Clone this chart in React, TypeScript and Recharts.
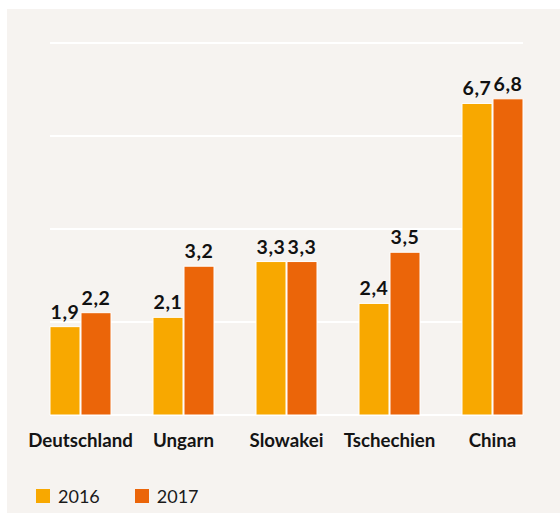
import React from "react"
import { BarChart, Bar, XAxis, YAxis, CartesianGrid, Legend, LabelList } from "recharts"

const categories = ["Deutschland", "Ungarn", "Slowakei", "Tschechien", "China"]
const values2016 = [1.9, 2.1, 3.3, 2.4, 6.7]
const values2017 = [2.2, 3.2, 3.3, 3.5, 6.8]
const seriesNames = ["2016", "2017"]
const yTicks = [0, 2, 4, 6, 8]

const YELLOW = "#f8a800"
const ORANGE = "#eb6509"
const BG = "#f6f3f0"

const data = categories.map((name, i) => ({
  name,
  v2016: values2016[i],
  v2017: values2017[i],
}))

const fmt = (v: any) => Number(v).toFixed(1).replace(".", ",")

const labelStyle = { fontFamily: "Lato", fontWeight: 700, fontSize: 19.5, fill: "#111111", letterSpacing: 0.6 }

// legend: small squares with the year next to them
const LegendContent = (props: any) => {
  const items = props.payload || []
  return (
    <div style={{ display: "flex", alignItems: "center", height: 30 }}>
      {items.map((item: any) => (
        <div key={item.value} style={{ display: "flex", alignItems: "center", marginRight: 35 }}>
          <span style={{ display: "inline-block", width: 14, height: 14, background: item.color }} />
          <span style={{ marginLeft: 8, fontFamily: "Lato", fontSize: 18, color: "#1a1a1a" }}>{item.value}</span>
        </div>
      ))}
    </div>
  )
}

export default function App() {
  return (
    <div style={{ position: "absolute", left: 7, top: 9, width: 553, height: 504, background: BG }}>
      <BarChart
        width={553}
        height={504}
        data={data}
        margin={{ top: 34, right: 37, bottom: 38, left: 43 }}
        barSize={30}
        barGap={1}
      >
        <CartesianGrid vertical={false} stroke="#ffffff" strokeWidth={2} />
        <XAxis
          dataKey="name"
          axisLine={false}
          tickLine={false}
          tickSize={0}
          tickMargin={19}
          height={30}
          padding={{ left: -21, right: -21 }}
          interval={0}
          tick={{ fontFamily: "Lato", fontWeight: 700, fontSize: 18.7, fill: "#141414" }}
        />
        <YAxis hide domain={[0, 8]} ticks={yTicks} />
        <Legend
          verticalAlign="bottom"
          align="left"
          content={LegendContent}
          wrapperStyle={{ left: 29, bottom: 2, width: "auto" }}
        />
        <Bar dataKey="v2016" name={seriesNames[0]} fill={YELLOW} stroke="#ffffff" strokeWidth={1} isAnimationActive={false}>
          <LabelList dataKey="v2016" position="top" offset={8} formatter={fmt} style={labelStyle} />
        </Bar>
        <Bar dataKey="v2017" name={seriesNames[1]} fill={ORANGE} stroke="#ffffff" strokeWidth={1} isAnimationActive={false}>
          <LabelList dataKey="v2017" position="top" offset={8} formatter={fmt} style={labelStyle} />
        </Bar>
      </BarChart>
    </div>
  )
}
